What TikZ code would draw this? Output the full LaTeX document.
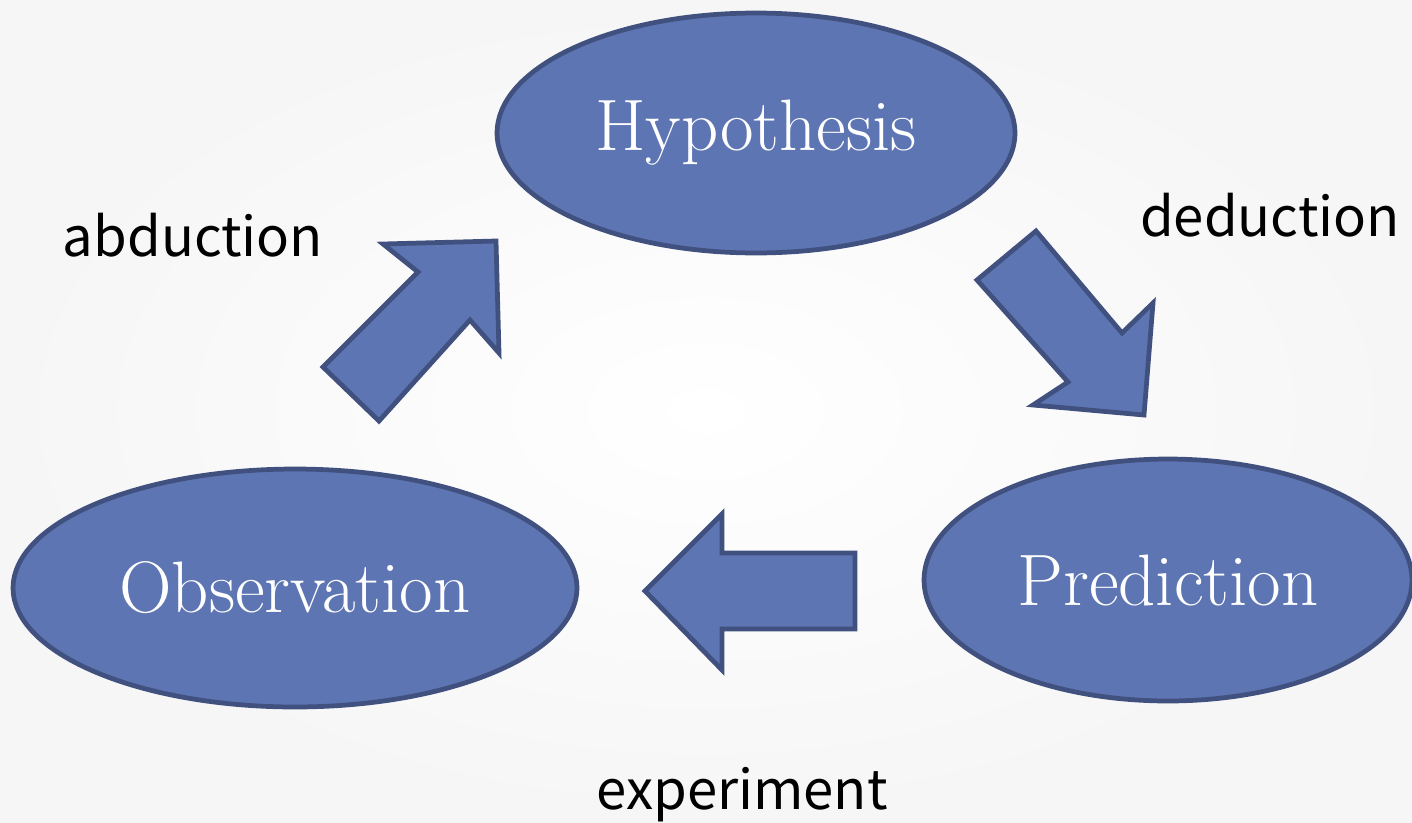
\documentclass[tikz,border=0pt]{standalone}
\usepackage{fontspec}
\newfontfamily\labelfont{Noto Sans CJK JP}
\usepackage{xcolor}
\usetikzlibrary{shapes.geometric}
\definecolor{cycleblue}{HTML}{5E75B3}
\definecolor{edgeblue}{HTML}{40507F}
\definecolor{bggray}{HTML}{F6F6F6}

\begin{document}
\begin{tikzpicture}[x=0.02cm, y=-0.02cm,
    phase/.style={draw=edgeblue, fill=cycleblue, line width=2.7pt, ellipse, inner sep=0pt,
      text=white, font=\fontsize{41.5}{48}\selectfont},
    blockarrow/.style={draw=edgeblue, fill=cycleblue, line width=2.7pt, line join=miter},
    steplabel/.style={font=\labelfont\fontsize{31}{36}\selectfont}]
  \shade[inner color=white, outer color=bggray] (0,0) rectangle (1412,822);
  \useasboundingbox (0,0) rectangle (1412,822);

  % the three phases of the cycle
  \node[phase, minimum width=10.36cm, minimum height=4.8cm] (hyp) at (756,133) {Hypothesis};
  \node[phase, minimum width=11.28cm, minimum height=4.76cm] (obs) at (295,588) {Observation};
  \node[phase, minimum width=9.76cm, minimum height=4.84cm] (pred) at (1168,580) {Prediction};

  % block arrows between them
  \draw[blockarrow] (323,367) -- (418,272) -- (383,244) -- (496,241)
    -- (499,353) -- (470,320) -- (379,421) -- cycle;
  \draw[blockarrow] (1036,231) -- (1122,333) -- (1153,303) -- (1144,415)
    -- (1033,405) -- (1068,382) -- (977,280) -- cycle;
  \draw[blockarrow] (855,553) -- (722,553) -- (722,514) -- (645,591)
    -- (722,670) -- (722,629) -- (855,629) -- cycle;

  \node[steplabel] (abd) at (193,235) {abduction};
  \node[steplabel] (ded) at (1270,215) {deduction};
  \node[steplabel] (exp) at (742,795) {experiment};
\end{tikzpicture}
\end{document}
